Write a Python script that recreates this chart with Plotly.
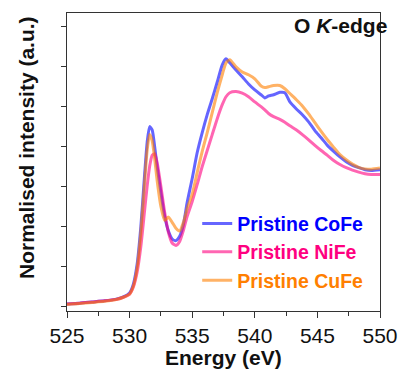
import plotly.graph_objects as go

energy = [525, 526, 527, 528, 529, 529.5, 530, 530.3, 530.6, 530.9, 531.2, 531.4, 531.6, 531.8,
          532.0, 532.2, 532.5, 532.8, 533.1, 533.4, 533.7, 534.0, 534.3, 534.6, 535.0, 535.4,
          535.8, 536.2, 536.6, 537.0, 537.4, 537.7, 538.0, 538.5, 539.0, 539.5, 540.0, 540.5,
          540.8, 541.1, 541.5, 542.0, 542.4, 542.8, 543.3, 543.8, 544.3, 544.8, 545.3, 545.8,
          546.3, 546.8, 547.3, 547.8, 548.3, 548.8, 549.3, 550]

cofe = [0.05, 0.07, 0.10, 0.13, 0.18, 0.23, 0.33, 0.55, 1.05, 2.0, 3.3, 4.1, 4.5, 4.42,
        4.0, 3.5, 2.85, 2.25, 1.88, 1.68, 1.64, 1.75, 2.05, 2.6, 3.2, 3.85,
        4.35, 4.8, 5.2, 5.62, 6.05, 6.2, 6.1, 5.92, 5.75, 5.57, 5.42, 5.3,
        5.22, 5.27, 5.3, 5.36, 5.35, 5.12, 4.95, 4.8, 4.62, 4.4, 4.22, 4.03,
        3.88, 3.74, 3.62, 3.53, 3.47, 3.42, 3.4, 3.42]

nife = [0.05, 0.07, 0.10, 0.13, 0.17, 0.22, 0.30, 0.48, 0.85, 1.5, 2.4, 3.0, 3.5, 3.78,
        3.82, 3.6, 3.0, 2.35, 1.85, 1.58, 1.52, 1.62, 1.9, 2.25, 2.62, 3.05,
        3.5, 3.9, 4.3, 4.7, 5.05, 5.25, 5.35, 5.38, 5.34, 5.25, 5.12, 5.0,
        4.92, 4.83, 4.75, 4.68, 4.61, 4.52, 4.42, 4.3, 4.17, 4.03, 3.9, 3.78,
        3.65, 3.55, 3.47, 3.41, 3.36, 3.32, 3.3, 3.3]

cufe = [0.04, 0.06, 0.09, 0.12, 0.17, 0.22, 0.30, 0.50, 0.95, 1.85, 3.1, 3.9, 4.3, 4.15,
        3.7, 3.15, 2.5, 2.15, 2.23, 2.1, 1.95, 1.88, 2.1, 2.45, 2.8, 3.35,
        3.88, 4.35, 4.85, 5.35, 5.8, 6.1, 6.18, 6.0, 5.87, 5.8, 5.7, 5.52,
        5.48, 5.5, 5.53, 5.53, 5.45, 5.33, 5.18, 5.02, 4.82, 4.6, 4.38, 4.17,
        3.98, 3.8, 3.67, 3.56, 3.48, 3.44, 3.43, 3.46]

series_names = ["Pristine CoFe", "Pristine NiFe", "Pristine CuFe"]
series_values = [cofe, nife, cufe]
line_colors = ["rgb(0,0,255)", "rgb(255,0,127)", "rgb(255,127,0)"]
text_colors = ["#0000ff", "#ff0080", "#ff7f00"]

x_ticks = [525, 530, 535, 540, 545, 550]
y_ticks = [0, 1, 2, 3, 4, 5, 6, 7]

FONT = "Liberation Sans, Arial, sans-serif"

fig = go.Figure()
for i, (name, vals) in enumerate(zip(series_names, series_values)):
    fig.add_trace(go.Scatter(
        x=energy, y=vals, mode="lines",
        name=f"<b><span style='color:{text_colors[i]}'>{name}</span></b>",
        line=dict(color=line_colors[i], width=3, shape="spline", smoothing=0.6),
        opacity=0.6,
        legendgroup=f"g{i}",
    ))

axis_color = "#333333"
fig.update_layout(
    width=410, height=369,
    margin=dict(l=67, r=19, t=12, b=58),
    paper_bgcolor="white", plot_bgcolor="white",
    font=dict(family=FONT, color="#111111"),
    showlegend=True,
    legend=dict(
        x=0.416, y=0.358, xanchor="left", yanchor="top",
        bgcolor="rgba(0,0,0,0)", borderwidth=0,
        font=dict(size=19.5, family=FONT),
        traceorder="grouped", tracegroupgap=0,
    ),
    xaxis=dict(
        range=[525, 550], tickvals=x_ticks, ticks="outside", ticklen=6, tickwidth=1,
        tickcolor=axis_color, showline=True, linecolor=axis_color, linewidth=1.2,
        mirror=True, showgrid=False, zeroline=False,
        tickfont=dict(size=21, family=FONT, color="#111111"),
        minor=dict(dtick=2.5, tick0=525, ticks="outside", ticklen=4, tickcolor=axis_color, showgrid=False),
    ),
    yaxis=dict(
        range=[-0.125, 7.35], tickvals=y_ticks, ticks="outside", ticklen=5, tickwidth=1,
        tickcolor=axis_color, showticklabels=False, showline=True, linecolor=axis_color,
        linewidth=1.2, mirror=True, showgrid=False, zeroline=False,
    ),
    annotations=[
        dict(text="<b>Normalised intensity (a.u.)</b>", x=-0.1296, y=0.5485, xref="paper", yref="paper",
             textangle=-90, showarrow=False, font=dict(size=21, family=FONT, color="#111111"),
             xanchor="center", yanchor="middle"),
        dict(text="<b>Energy (eV)</b>", x=0.5, y=-0.155, xref="paper", yref="paper",
             showarrow=False, font=dict(size=21, family=FONT, color="#111111"),
             xanchor="center", yanchor="middle"),
        dict(text="<b>O <i>K</i>-edge</b>", x=1.03, y=0.9565, xref="paper", yref="paper",
             showarrow=False, font=dict(size=21, family=FONT, color="#111111"),
             xanchor="right", yanchor="middle"),
    ],
)

fig.write_html("out.html")
